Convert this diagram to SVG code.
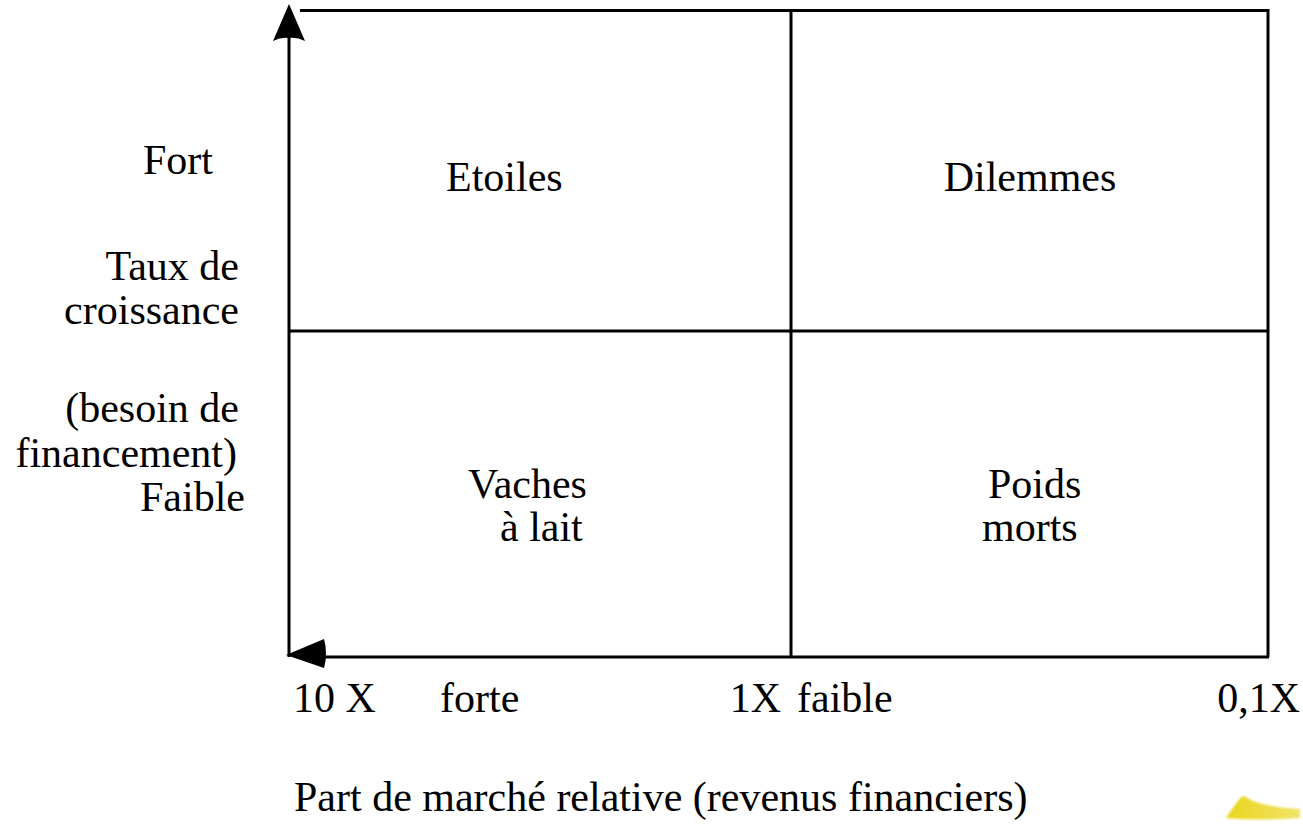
<svg xmlns="http://www.w3.org/2000/svg" width="1303" height="828" viewBox="0 0 1303 828">
  <style>
    .lbl { font-family: "Liberation Serif", "Times New Roman", serif; font-size: 42px; fill: #000; }
    .end { text-anchor: end; }
    .mid { text-anchor: middle; }
    .ln { stroke: #000; stroke-width: 3; fill: none; }
    .head { fill: #000; stroke: none; }
  </style>
  <defs>
    <filter id="soft" x="-20%" y="-20%" width="140%" height="140%">
      <feGaussianBlur stdDeviation="0.8"/>
    </filter>
    <linearGradient id="fade" x1="0" y1="0" x2="1" y2="0">
      <stop offset="0" stop-color="#ead61c"/>
      <stop offset="1" stop-color="#f1e46a"/>
    </linearGradient>
  </defs>
  <rect width="1303" height="828" fill="#fff"/>

  <!-- grid lines and axes -->
  <g id="connectors">
    <line class="ln" x1="289" y1="36" x2="289" y2="657"/>
    <line class="ln" x1="300" y1="10.5" x2="1269" y2="10.5"/>
    <line class="ln" x1="1268" y1="9" x2="1268" y2="657"/>
    <line class="ln" x1="791" y1="10" x2="791" y2="657"/>
    <line class="ln" x1="289" y1="331" x2="1268" y2="331"/>
    <line class="ln" x1="320" y1="657" x2="1269" y2="657"/>
    <!-- arrowheads -->
    <path class="head" d="M289,4 L305,41 Q297,37 289,38 Q281,37 273,41 Z"/>
    <path class="head" d="M286,655 L324,639 Q328,653 324,668 Z"/>
  </g>

  <!-- vertical axis labels -->
  <g id="axis-y">
    <text class="lbl end" x="213" y="174">Fort</text>
    <text class="lbl end" x="239" y="280">Taux de</text>
    <text class="lbl end" x="239" y="324">croissance</text>
    <text class="lbl end" x="239" y="422">(besoin de</text>
    <text class="lbl end" x="237" y="467">financement)</text>
    <text class="lbl end" x="245" y="511">Faible</text>
  </g>

  <!-- quadrants -->
  <g id="q-etoiles">
    <text class="lbl" x="446" y="191">Etoiles</text>
  </g>
  <g id="q-dilemmes">
    <text class="lbl mid" x="1030" y="191">Dilemmes</text>
  </g>
  <g id="q-vaches">
    <text class="lbl" x="468" y="498">Vaches</text>
    <text class="lbl" x="500" y="541">à lait</text>
  </g>
  <g id="q-poids">
    <text class="lbl" x="988" y="498">Poids</text>
    <text class="lbl" x="982" y="541">morts</text>
  </g>

  <!-- horizontal axis labels -->
  <g id="axis-x">
    <text class="lbl" x="293" y="712">10 X</text>
    <text class="lbl" x="440" y="712">forte</text>
    <text class="lbl end" x="781" y="712">1X</text>
    <text class="lbl" x="797" y="712">faible</text>
    <text class="lbl end" x="1300" y="712">0,1X</text>
    <text class="lbl" x="294" y="811">Part de marché relative (revenus financiers)</text>
  </g>

  <!-- yellow mark, bottom right -->
  <g id="mark">
    <path d="M1226,818 Q1234,806 1240,798 Q1244,794 1249,799 Q1264,807 1300,809 L1300,818 Q1262,821 1226,818 Z" fill="url(#fade)" filter="url(#soft)"/>
  </g>
</svg>
